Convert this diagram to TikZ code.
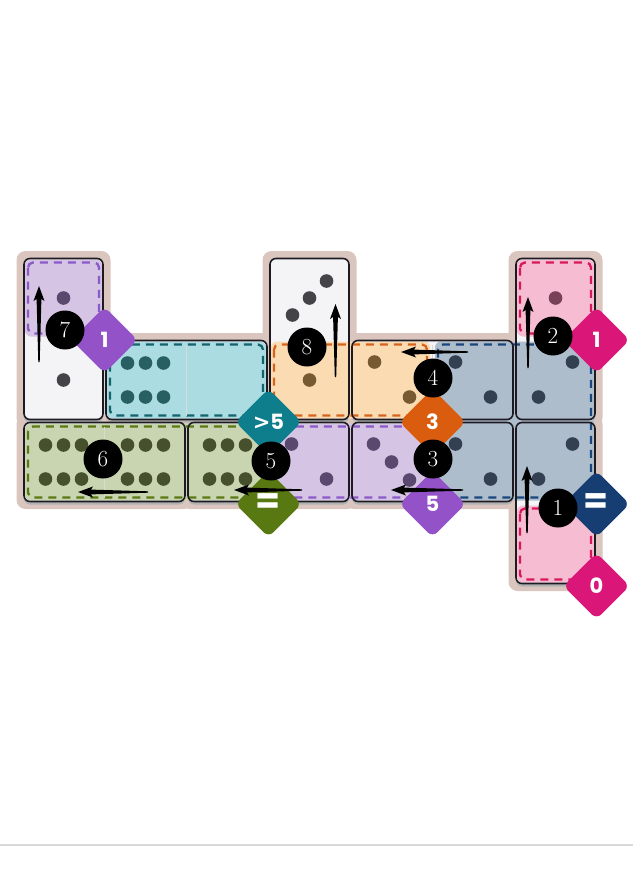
\documentclass[tikz,border=0pt]{standalone}
\usepackage{fontspec}
\usepackage{xcolor}
\usepackage{tikz}
\usetikzlibrary{calc}
\newfontfamily\diafont{Poppins}
\newfontfamily\gtfont{DejaVu Sans}

\definecolor{boardc}{RGB}{218,198,190}
\definecolor{bodyc}{RGB}{244,244,246}
\definecolor{edgec}{RGB}{30,26,34}
\definecolor{purpfill}{RGB}{213,196,228}
\definecolor{purpline}{RGB}{138,90,200}
\definecolor{purpdia}{RGB}{148,82,200}
\definecolor{cyanfill}{RGB}{170,220,226}
\definecolor{cyanline}{RGB}{20,100,110}
\definecolor{cyandia}{RGB}{14,125,140}
\definecolor{orngfill}{RGB}{250,219,178}
\definecolor{orngline}{RGB}{214,100,30}
\definecolor{orngdia}{RGB}{218,92,14}
\definecolor{bluefill}{RGB}{174,189,204}
\definecolor{blueline}{RGB}{25,70,125}
\definecolor{bluedia}{RGB}{22,62,115}
\definecolor{pinkfill}{RGB}{245,188,210}
\definecolor{pinkline}{RGB}{215,25,90}
\definecolor{pinkdia}{RGB}{218,22,120}
\definecolor{grenfill}{RGB}{200,213,176}
\definecolor{grenline}{RGB}{90,120,20}
\definecolor{grendia}{RGB}{88,120,18}
\definecolor{pipwhite}{RGB}{68,68,72}
\definecolor{pippurp}{RGB}{90,72,110}
\definecolor{pipcyan}{RGB}{40,95,98}
\definecolor{piporng}{RGB}{120,90,50}
\definecolor{pipblue}{RGB}{50,64,82}
\definecolor{pippink}{RGB}{120,65,88}
\definecolor{pipgren}{RGB}{70,80,45}

% col, row, width, height (in cells)
\newcommand{\boardpart}[4]{
	\fill[boardc, rounded corners=9] (22.5+82*#1-6, 257+82*#2-6) rectangle ++(82*#3+12, 82*#4+12);
	}
\newcommand{\dombody}[4]{
	\fill[black!30, rounded corners=6] (22.5+82*#1+1.5, 257+82*#2+4.5) rectangle ++(82*#3-3, 82*#4-3);
	\fill[bodyc, rounded corners=6] (22.5+82*#1+1.5, 257+82*#2+1.5) rectangle ++(82*#3-3, 82*#4-3);
	}
\newcommand{\domedge}[4]{
	\draw[edgec, line width=1.6, rounded corners=6] (22.5+82*#1+1.5, 257+82*#2+1.5) rectangle ++(82*#3-3, 82*#4-3);
	}
\newcommand{\region}[5]{
	\fill[#5fill, rounded corners=6] (22.5+82*#1+2.5, 257+82*#2+2.5) rectangle ++(82*#3-5, 82*#4-5);
	\draw[#5line, line width=2.3, dash pattern=on 8pt off 6pt, rounded corners=5] (22.5+82*#1+5.5, 257+82*#2+5.5) rectangle ++(82*#3-11, 82*#4-11);
	}
% col, row, colour, list of offsets
\newcommand{\pips}[4]{
	\foreach \dx/\dy in {#4}
		\fill[#3] (22.5+82*#1+41+\dx, 257+82*#2+41+\dy) circle (6.8);
	}
% x, tail y, tip y
\newcommand{\arrowup}[3]{
	\fill[black] (#1-0.7,#2) -- (#1-2.4,#3+13) -- (#1-5.5,#3+15) -- (#1,#3) -- (#1+5.5,#3+15) -- (#1+2.4,#3+13) -- (#1+0.7,#2) -- cycle;
	}
% y, tail x, tip x
\newcommand{\arrowleft}[3]{
	\fill[black] (#2,#1-0.7) -- (#3+13,#1-2.4) -- (#3+15,#1-5.5) -- (#3,#1) -- (#3+15,#1+5.5) -- (#3+13,#1+2.4) -- (#2,#1+0.7) -- cycle;
	}

\begin{document}
\begin{tikzpicture}[x=1pt, y=-1pt,
	badge/.style={circle, fill=black, text=white, minimum size=39, inner sep=0pt, font=\fontsize{23}{23}\selectfont},
	diam/.style={rectangle, rotate=45, minimum size=47, inner sep=0pt, rounded corners=7},
	dlabel/.style={text=white, font=\diafont\bfseries\fontsize{21}{21}\selectfont},
	eqlabel/.style={text=white, font=\diafont\bfseries\fontsize{36}{36}\selectfont}]

	\useasboundingbox (0,0) rectangle (633,878);

	% board
	\foreach \c/\r/\w/\h in {0/0/1/2, 1/1/2/1, 3/0/1/2, 4/1/2/1, 6/0/1/2, 0/2/2/1, 2/2/2/1, 4/2/2/1, 6/2/1/2}
		\boardpart{\c}{\r}{\w}{\h};
	\foreach \c/\r/\w/\h in {0/0/1/2, 1/1/2/1, 3/0/1/2, 4/1/2/1, 6/0/1/2, 0/2/2/1, 2/2/2/1, 4/2/2/1, 6/2/1/2}
		\dombody{\c}{\r}{\w}{\h};

	% regions
	\region{0}{0}{1}{1}{purp}
	\region{1}{1}{2}{1}{cyan}
	\region{3}{1}{2}{1}{orng}
	\region{5}{1}{2}{2}{blue}
	\region{6}{0}{1}{1}{pink}
	\region{6}{3}{1}{1}{pink}
	\region{0}{2}{3}{1}{gren}
	\region{3}{2}{2}{1}{purp}

	% halves
	\foreach \x/\y in {104.5/340, 186.5/340, 432.5/340, 104.5/422, 268.5/422, 432.5/422}
		\draw[black!15] (\x, \y+5) -- (\x, \y+76);
	\foreach \c/\r/\w/\h in {0/0/1/2, 1/1/2/1, 3/0/1/2, 4/1/2/1, 6/0/1/2, 0/2/2/1, 2/2/2/1, 4/2/2/1, 6/2/1/2}
		\domedge{\c}{\r}{\w}{\h};

	% pips
	\pips{0}{0}{pippurp}{0/0}
	\pips{0}{1}{pipwhite}{0/0}
	\pips{1}{1}{pipcyan}{-18/-17, 0/-17, 18/-17, -18/17, 0/17, 18/17}
	\pips{3}{0}{pipwhite}{17/-17, 0/0, -17/17}
	\pips{3}{1}{piporng}{0/0}
	\pips{4}{1}{piporng}{-17/-18, 18/17}
	\pips{5}{1}{pipblue}{-18/-18, 17/17}
	\pips{6}{0}{pippink}{0/0}
	\pips{6}{1}{pipblue}{17/-18, -17/17}
	\pips{0}{2}{pipgren}{-18/-17, 0/-17, 18/-17, -18/17, 0/17, 18/17}
	\pips{1}{2}{pipgren}{-18/-17, 0/-17, 18/-17, -18/17, 0/17, 18/17}
	\pips{2}{2}{pipgren}{-18/-17, 0/-17, 18/-17, -18/17, 0/17, 18/17}
	\pips{3}{2}{pippurp}{-18/-18, 17/17}
	\pips{4}{2}{pippurp}{-18/-18, 0/0, 18/18}
	\pips{5}{2}{pipblue}{-18/-18, 17/17}
	\pips{6}{2}{pipblue}{17/-18, -17/17}

	% constraints
	\node[diam, fill=purpdia] (k1) at (104.5,340) {};
	\node[dlabel] at (k1) {1};
	\node[diam, fill=cyandia] (k2) at (268.5,422) {};
	\node[dlabel] at (k2) {{\gtfont\bfseries >}5};
	\node[diam, fill=orngdia] (k3) at (432.5,422) {};
	\node[dlabel] at (k3) {3};
	\node[diam, fill=pinkdia] (k4) at (596.5,340) {};
	\node[dlabel] at (k4) {1};
	\node[diam, fill=bluedia] (k5) at (596.5,504) {};
	\node[eqlabel] at (k5) {=};
	\node[diam, fill=pinkdia] (k6) at (596.5,586) {};
	\node[dlabel] at (k6) {0};
	\node[diam, fill=grendia] (k7) at (268.5,504) {};
	\node[eqlabel] at (k7) {=};
	\node[diam, fill=purpdia] (k8) at (432.5,504) {};
	\node[dlabel] at (k8) {5};

	% moves
	\arrowup{39}{362}{286}
	\arrowup{335.5}{377}{304}
	\arrowup{528}{368}{297}
	\arrowup{527}{533}{466}
	\arrowleft{352}{468}{401}
	\arrowleft{492}{148}{78}
	\arrowleft{490}{302}{234}
	\arrowleft{490}{463}{391}

	\node[badge] (b7) at (65,330) {7};
	\node[badge] (b8) at (307,347) {8};
	\node[badge] (b4) at (433,378) {4};
	\node[badge] (b2) at (553,336) {2};
	\node[badge] (b6) at (103,459) {6};
	\node[badge] (b5) at (271,461) {5};
	\node[badge] (b3) at (433,459) {3};
	\node[badge] (b1) at (558,508) {1};

	\draw[black!15, line width=1.5] (0,845) -- (633,845);

\end{tikzpicture}
\end{document}
